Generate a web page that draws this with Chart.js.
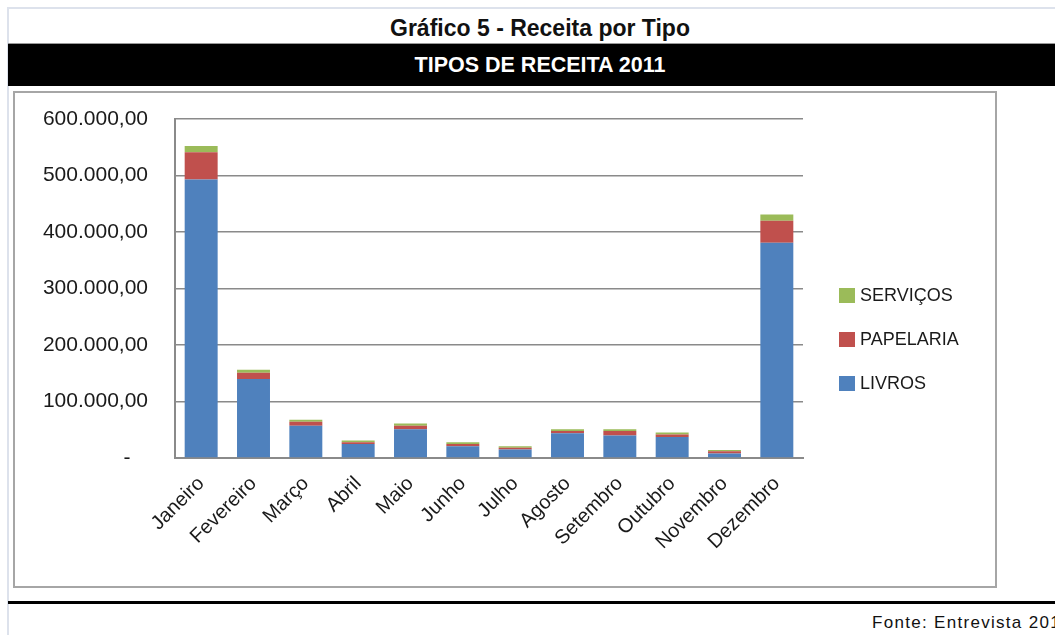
<!DOCTYPE html>
<html>
<head>
<title>Receita por Tipo</title>
<style>
body { margin:0; width:1055px; height:635px; overflow:hidden; background:#fff; font-family:"Liberation Sans", Arial, sans-serif; position:relative; }
.frame { position:absolute; left:7px; top:7px; width:1060px; height:640px; border-left:2px solid #dde2ec; border-top:2px solid #dde2ec; }
.title { position:absolute; left:25px; width:1030px; top:13px; height:30px; line-height:30px; text-align:center; font-weight:bold; font-size:23px; color:#111; }
.band { position:absolute; left:8px; top:43px; width:1047px; height:43px; background:#000; border-top:1px solid #999; box-sizing:border-box; }
.band span { position:absolute; left:17px; width:1030px; top:0; line-height:42px; text-align:center; color:#fff; font-weight:bold; font-size:21.5px; }
.box { position:absolute; left:13px; top:91px; width:984px; height:497px; border:2px solid #a6a6a6; box-sizing:border-box; }
#chartWrap { position:absolute; left:15px; top:93px; width:980px; height:493px; }
.legend { position:absolute; left:839px; top:285px; font-size:18px; color:#1a1a1a; }
.legend div { height:44px; line-height:20px; white-space:nowrap; }
.legend i { display:inline-block; width:16px; height:15px; vertical-align:-2px; margin-right:5px; }
.foot { position:absolute; left:8px; top:601px; width:1047px; height:3px; background:#000; }
.source { position:absolute; left:872px; top:613px; font-size:17px; letter-spacing:1.3px; color:#111; white-space:nowrap; }
</style>
</head>
<body>
<div class="frame"></div>
<div class="title">Gráfico 5 - Receita por Tipo</div>
<div class="band"><span>TIPOS DE RECEITA 2011</span></div>
<div class="box"></div>
<div id="chartWrap"><canvas id="receitaChart"></canvas></div>
<div class="legend" id="legend"></div>
<div class="foot"></div>
<div class="source">Fonte: Entrevista 2011</div>

<script src="https://cdn.jsdelivr.net/npm/chart.js@4"></script>
<script>
// months of 2011
let meses = ['Janeiro','Fevereiro','Março','Abril','Maio','Junho','Julho','Agosto','Setembro','Outubro','Novembro','Dezembro'];
// values (R$)
let livros    = [493000,140000,57000,25000,51000,21000,15000,44000,40000,37000,8000,381000];
let papelaria = [48000,11000,7000,3000,6000,4000,3000,4000,8000,4500,4000,39000];
let servicos  = [11000,5000,3500,3000,4000,3000,3000,3000,3000,3500,2000,11000];
let yTicks = [0,100000,200000,300000,400000,500000,600000];

let fontFam = '"Liberation Sans", Arial, sans-serif';

function fmt(v){
  if (v === 0) return '-   ';
  let s = Math.round(v).toString().replace(/\B(?=(\d{3})+(?!\d))/g, '.');
  return s + ',00';
}

let ctx = document.getElementById('receitaChart').getContext('2d');
let chart = new Chart(ctx, {
    type: 'bar',
    data: {
        labels: meses,
        datasets: [
            { label:'LIVROS', data:livros, backgroundColor:'#4f81bd' },
            { label:'PAPELARIA', data:papelaria, backgroundColor:'#c0504d' },
            { label:'SERVIÇOS', data:servicos, backgroundColor:'#9bbb59' }
        ]
    },
    options: {
        responsive: true,
        maintainAspectRatio: false,
        animation: false,
        layout: { padding: { top:26, right:192, left:0, bottom:0 } },
        datasets: { bar: { barPercentage:0.63, categoryPercentage:1 } },
        plugins: { legend:{ display:false }, tooltip:{ enabled:false } },
        scales: {
            x: {
                stacked: true,
                grid: { display:false },
                border: { display:true, color:'#8a8a8a', width:2 },
                ticks: { maxRotation:45, minRotation:45, autoSkip:false, padding:6,
                         color:'#1a1a1a', font:{ family:fontFam, size:20 } },
                afterFit: function(scale){ scale.height = 128; }
            },
            y: {
                stacked: true,
                min: 0, max: 600000,
                afterBuildTicks: function(scale){ scale.ticks = yTicks.map(v => ({ value:v })); },
                grid: { color:'#8a8a8a', lineWidth:1.5, drawTicks:false },
                border: { display:true, color:'#8a8a8a', width:2 },
                ticks: { padding:27, color:'#1a1a1a', font:{ family:fontFam, size:21 },
                         callback: function(v){ return fmt(v); } },
                afterFit: function(scale){
                    scale.width = 160;
                    // tick padding should not push the plot top down
                    scale.paddingTop = 12;
                    scale.paddingBottom = 12;
                }
            }
        }
    }
});

// legend on the right, top item is the top of the stack
let legend = document.getElementById('legend');
chart.data.datasets.slice().reverse().forEach(function(ds){
    legend.innerHTML += '<div><i style="background:' + ds.backgroundColor + '"></i>' + ds.label + '</div>';
});
</script>
</body>
</html>
